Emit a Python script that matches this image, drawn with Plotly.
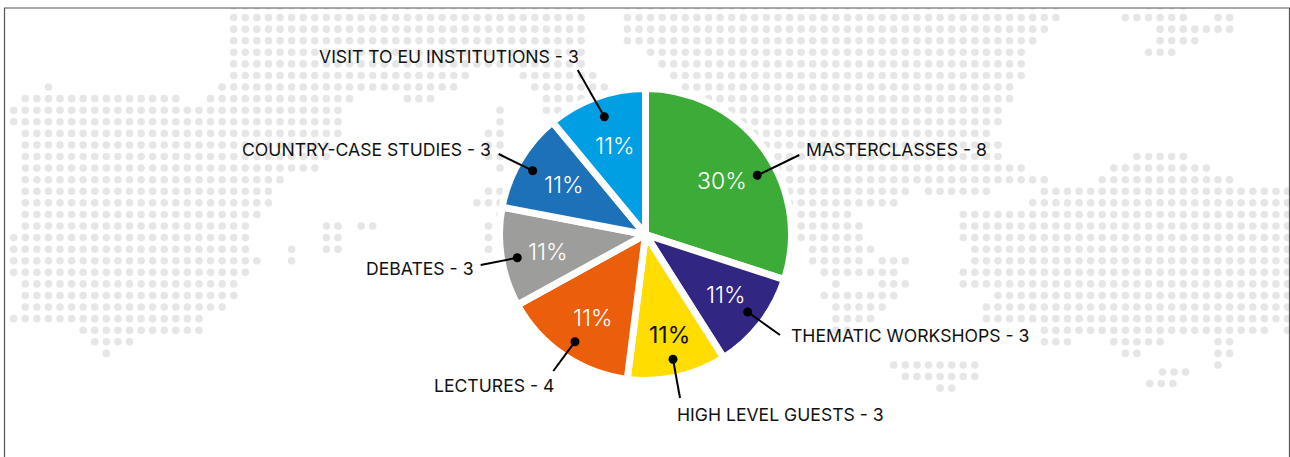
import plotly.graph_objects as go

# ---------- chart data ----------
categories = ["MASTERCLASSES", "THEMATIC WORKSHOPS", "HIGH LEVEL GUESTS", "LECTURES",
              "DEBATES", "COUNTRY-CASE STUDIES", "VISIT TO EU INSTITUTIONS"]
counts = [8, 3, 3, 4, 3, 3, 3]
shares = [30, 11, 11, 15, 11, 11, 11]
percent_labels = ["30%", "11%", "11%", "11%", "11%", "11%", "11%"]
colors = ["#3dab37", "#312783", "#ffdd00", "#eb5e0b", "#9d9d9c", "#1d71b8", "#009fe3"]
percent_colors = ["#ffffff", "#ffffff", "#111111", "#ffffff", "#ffffff", "#ffffff", "#ffffff"]
percent_weights = [300, 300, 400, 300, 300, 300, 300]

# ---------- decorative dotted world map: per grid row, runs of (first col, last col) ----------
map_runs = {
    0: [(19, 49), (53, 90), (98, 101)],
    1: [(19, 49), (53, 90), (96, 101), (104, 105)],
    2: [(19, 49), (53, 89), (99, 105)],
    3: [(19, 49), (53, 88), (99, 102)],
    4: [(19, 49), (55, 87), (98, 100)],
    5: [(19, 49), (56, 87)],
    6: [(19, 39), (44, 50), (57, 87)],
    7: [(3, 3), (18, 38), (45, 51), (58, 86)],
    8: [(1, 14), (17, 29), (34, 36), (46, 50), (60, 86)],
    9: [(0, 28), (42, 42), (46, 47), (60, 85)],
    10: [(0, 28), (42, 42), (60, 85)],
    11: [(1, 28), (41, 42), (60, 84)],
    12: [(1, 27), (41, 42), (60, 85)],
    13: [(1, 27), (41, 42), (60, 85), (97, 101)],
    14: [(1, 26), (42, 42), (60, 87), (95, 103)],
    15: [(1, 23), (60, 89), (94, 105)],
    16: [(1, 22), (41, 42), (60, 77), (79, 84), (89, 110)],
    17: [(1, 22), (40, 42), (60, 76), (88, 110)],
    18: [(1, 21), (42, 42), (60, 72), (82, 110)],
    19: [(1, 20), (27, 28), (30, 31), (41, 41), (68, 73), (82, 110)],
    20: [(0, 20), (27, 28), (41, 41), (68, 73), (82, 110)],
    21: [(0, 20), (24, 24), (27, 28), (41, 41), (69, 74), (83, 110)],
    22: [(0, 21), (24, 24), (69, 73), (75, 77), (83, 110)],
    23: [(0, 20), (70, 76), (82, 110)],
    24: [(1, 19), (71, 71), (75, 77), (82, 110)],
    25: [(1, 19), (70, 76), (85, 110)],
    26: [(1, 18), (71, 75), (84, 110)],
    27: [(0, 16), (71, 74), (84, 110)],
    28: [(6, 16), (71, 72), (89, 108), (110, 110)],
    29: [(7, 10), (89, 91), (95, 99), (104, 105)],
    30: [(8, 8), (96, 97), (104, 105)],
    31: [(76, 83), (104, 104)],
    32: [(77, 83)],
    33: [(80, 81)],
}
island_cols = [99.2, 100.2, 101.2, 98.1, 99.1, 100.1]
island_rows = [31.6, 31.6, 31.6, 32.6, 32.6, 32.6]

W, H = 1290, 457
FRAME_L, FRAME_T, FRAME_R = 4.5, 8, 1289.5
COL0, ROW0, PITCH = 13.7, 6.0, 11.58
CX, CY, R = 645.5, 234.5, 146
FONT = "Inter"

dot_x, dot_y = [], []
for row, runs in map_runs.items():
    for a, b in runs:
        for c in range(a, b + 1):
            dot_x.append(COL0 + PITCH * c)
            dot_y.append(ROW0 + PITCH * row)
for c, r in zip(island_cols, island_rows):
    dot_x.append(COL0 + PITCH * c)
    dot_y.append(ROW0 + PITCH * r)

fig = go.Figure()
fig.add_trace(go.Scatter(x=dot_x, y=dot_y, mode="markers", hoverinfo="skip", showlegend=False,
                         marker=dict(size=7.6, color="#e6e6e6", line=dict(width=0))))
fig.add_trace(go.Pie(labels=categories, values=shares, sort=False, direction="clockwise", rotation=0,
                     marker=dict(colors=colors, line=dict(color="#ffffff", width=7)),
                     textinfo="none", hoverinfo="skip", showlegend=False,
                     domain=dict(x=[(CX - R) / W, (CX + R) / W], y=[1 - (CY + R) / H, 1 - (CY - R) / H])))

# label placement per category, same order as categories
label_left = [803.5, 788.5, 674.5, 431.5, 363.5, 239.5, 316.5]
label_mid = [150, 335, 414, 385, 268, 150, 57]
pct_x = [722, 726, 669, 593, 548, 564, 615]
pct_y = [181, 295, 335, 318, 252, 185, 146]
dot_pos = [(757.3, 175.3), (747.7, 312), (673, 359.3), (575, 341.7), (517.3, 257.7), (532.7, 170.7), (604.3, 116.7)]
line_end = [(799.3, 155), (780, 335), (680, 398), (553.3, 371), (480.7, 265), (498.7, 154), (577.7, 70)]

shapes = [dict(type="path", xref="paper", yref="paper", layer="above",
               path=f"M{FRAME_L / W},0 L{FRAME_L / W},{1 - FRAME_T / H} L{FRAME_R / W},{1 - FRAME_T / H} L{FRAME_R / W},0",
               line=dict(color="#555555", width=1.2))]
annotations = []
for i, cat in enumerate(categories):
    (dx, dy), (ex, ey) = dot_pos[i], line_end[i]
    shapes.append(dict(type="line", xref="x", yref="y", layer="above", x0=dx, y0=dy, x1=ex, y1=ey,
                       line=dict(color="#000000", width=2)))
    shapes.append(dict(type="circle", xref="x", yref="y", layer="above", x0=dx - 4.5, x1=dx + 4.5,
                       y0=dy - 4.5, y1=dy + 4.5, fillcolor="#000000", line=dict(width=0)))
    annotations.append(dict(x=label_left[i], y=label_mid[i], xref="x", yref="y", xanchor="left", yanchor="middle",
                            text=f"{cat} - {counts[i]}", showarrow=False,
                            font=dict(family=FONT, size=17.6, color="#111111")))
    annotations.append(dict(x=pct_x[i], y=pct_y[i], xref="x", yref="y", xanchor="center", yanchor="middle",
                            text=percent_labels[i], showarrow=False,
                            font=dict(family=FONT, size=23, color=percent_colors[i], weight=percent_weights[i])))

fig.update_layout(
    width=W, height=H, margin=dict(l=0, r=0, t=0, b=0, pad=0), autosize=False,
    paper_bgcolor="#ffffff", plot_bgcolor="rgba(0,0,0,0)",
    xaxis=dict(range=[FRAME_L, FRAME_R], domain=[FRAME_L / W, FRAME_R / W], visible=False, fixedrange=True),
    yaxis=dict(range=[H, FRAME_T], domain=[0, 1 - FRAME_T / H], visible=False, fixedrange=True),
    shapes=shapes, annotations=annotations,
)
fig.write_html("out.html", config={"displayModeBar": False},
               post_script="document.body.style.margin='0';")
